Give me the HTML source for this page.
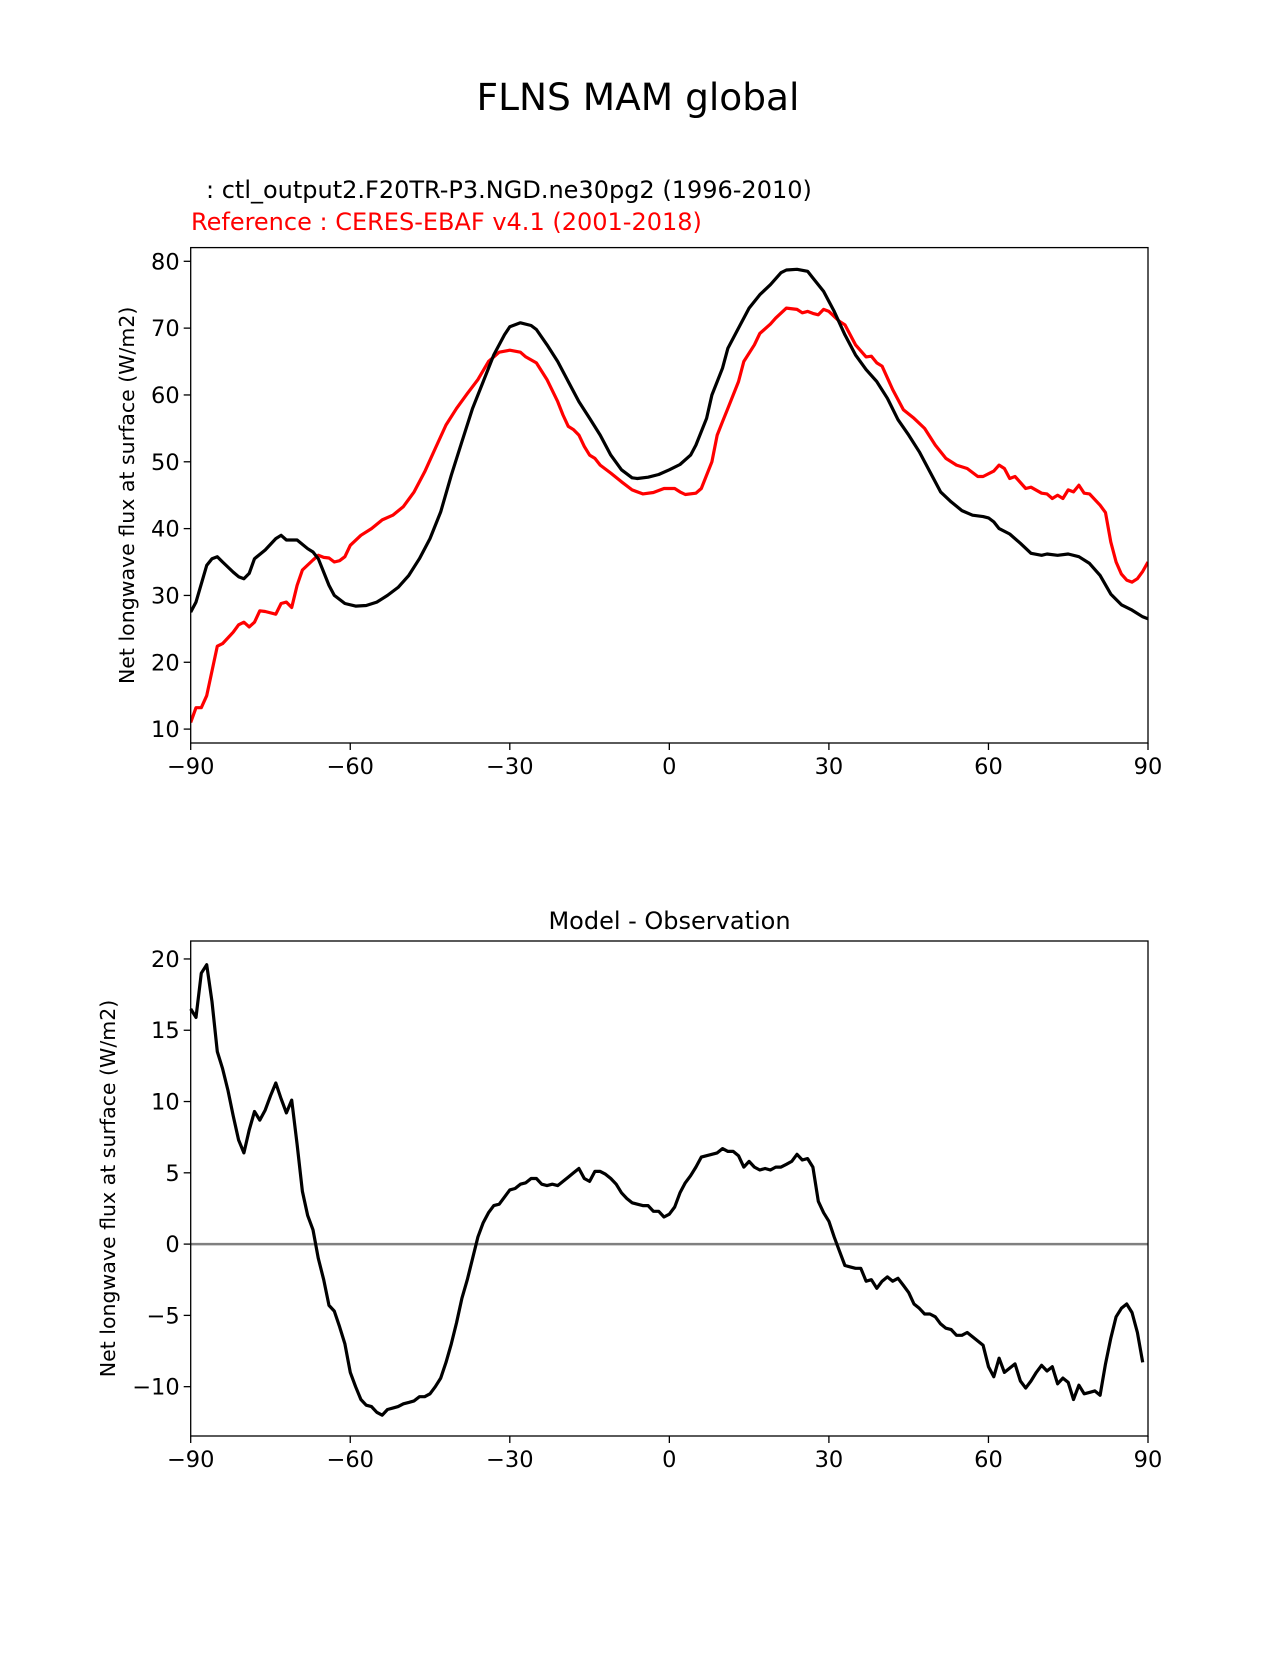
<!DOCTYPE html>
<html><head><meta charset="utf-8"><style>
body{margin:0;background:#fff}
svg text{font-family:"DejaVu Sans","Liberation Sans",sans-serif;fill:#000}
</style></head><body>
<svg id="fig" width="1275" height="1650" viewBox="0 0 1275 1650" xmlns="http://www.w3.org/2000/svg">
<rect width="1275" height="1650" fill="#fff"/>
<text x="638" y="110" font-size="37.5" text-anchor="middle">FLNS MAM global</text>
<text x="206" y="198" font-size="24">: ctl_output2.F20TR-P3.NGD.ne30pg2 (1996-2010)</text>
<text x="191" y="230" font-size="24" style="fill:#f00">Reference : CERES-EBAF v4.1 (2001-2018)</text>
<text x="669.5" y="929" font-size="24" text-anchor="middle">Model - Observation</text>
<g id="top"></g>
<g id="bot"></g>
</svg>
<script>
const lonM=[-90,-89,-87,-86,-85,-84,-82,-81,-80,-79,-78,-76,-74,-73,-72,-70,-68,-67,-66,-64,-63,-61,-59,-57,-55,-53,-51,-49,-47,-45,-43,-41,-39,-37,-35,-33,-31,-30,-28,-26,-25,-23,-21,-19,-17,-15,-13,-11,-9,-7,-6,-4,-2,0,2,4,5,7,8,10,11,13,15,17,19,21,22,24,26,27,29,31,33,35,37,39,41,43,45,47,49,51,53,55,57,59,60,61,62,64,66,68,70,71,73,75,77,79,81,83,85,87,89,90];
const valM=[27.5,29,34.5,35.5,35.8,35,33.5,32.8,32.5,33.3,35.5,36.8,38.5,39,38.3,38.3,37,36.5,35.5,31.5,30,28.8,28.4,28.5,29,30,31.2,33,35.5,38.5,42.5,48,53,58,62,66,69,70.2,70.8,70.4,69.8,67.5,65,62,59,56.5,54,51,48.8,47.6,47.5,47.7,48.1,48.8,49.6,51,52.5,56.5,60,64,67,70,73,75,76.5,78.3,78.7,78.8,78.5,77.5,75.5,72.5,69,66,63.8,62,59.5,56.3,54,51.5,48.5,45.5,44,42.7,42,41.8,41.6,41,40,39.2,37.8,36.3,36,36.2,36,36.2,35.8,34.8,33,30.2,28.6,27.8,26.8,26.5];
const lonO=[-90,-89,-88,-87,-85,-84,-82,-81,-80,-79,-78,-77,-76,-74,-73,-72,-71,-70,-69,-67,-66,-65,-64,-63,-62,-61,-60,-58,-56,-54,-52,-50,-48,-46,-44,-42,-40,-38,-36,-34,-32,-30,-28,-27,-25,-23,-21,-20,-19,-18,-17,-16,-15,-14,-13,-11,-9,-7,-5,-3,-1,1,2,3,5,6,8,9,10,11,13,14,16,17,19,20,22,24,25,26,27,28,29,30,32,33,35,37,38,39,40,42,44,46,48,50,52,54,56,58,59,61,62,63,64,65,67,68,70,71,72,73,74,75,76,77,78,79,81,82,83,84,85,86,87,88,89,90];
const valO=[11,13.2,13.2,15,22.4,22.8,24.5,25.6,26,25.3,26,27.7,27.6,27.2,28.8,29,28.2,31.5,33.8,35.3,36,35.7,35.6,35,35.2,35.8,37.5,39,40,41.3,42,43.3,45.5,48.5,52,55.5,58,60.2,62.3,65,66.4,66.7,66.4,65.7,64.8,62.3,59,57,55.3,54.8,54,52.3,51,50.5,49.5,48.3,47,45.8,45.2,45.4,46,46,45.5,45.1,45.3,46,50,54,56,58,62,65,67.5,69.2,70.6,71.5,73,72.8,72.3,72.5,72.2,72,72.8,72.5,71,70.5,67.5,65.7,65.8,64.8,64.3,60.8,57.8,56.5,55,52.5,50.5,49.5,49,47.8,47.8,48.6,49.5,49,47.5,47.8,46,46.2,45.3,45.2,44.5,45,44.5,45.8,45.5,46.5,45.3,45.2,43.5,42.4,38,35,33.2,32.3,32,32.5,33.6,35];
const diffStart=-90;
const valD=[16.5,15.9,19,19.6,17,13.5,12.3,10.8,9,7.3,6.4,8,9.3,8.7,9.4,10.4,11.3,10.2,9.2,10.1,7,3.7,2,1,-1,-2.5,-4.3,-4.7,-5.8,-7,-9,-10,-10.9,-11.3,-11.4,-11.8,-12,-11.6,-11.5,-11.4,-11.2,-11.1,-11,-10.7,-10.7,-10.5,-10,-9.4,-8.3,-7,-5.5,-3.8,-2.5,-1,0.5,1.5,2.2,2.7,2.8,3.3,3.8,3.9,4.2,4.3,4.6,4.6,4.2,4.1,4.2,4.1,4.4,4.7,5,5.3,4.6,4.4,5.1,5.1,4.9,4.6,4.2,3.6,3.2,2.9,2.8,2.7,2.7,2.3,2.3,1.9,2.1,2.6,3.6,4.3,4.8,5.4,6.1,6.2,6.3,6.4,6.7,6.5,6.5,6.2,5.4,5.8,5.4,5.2,5.3,5.2,5.4,5.4,5.6,5.8,6.3,5.9,6,5.4,3,2.2,1.6,0.5,-0.5,-1.5,-1.6,-1.7,-1.7,-2.6,-2.5,-3.1,-2.6,-2.3,-2.6,-2.4,-2.9,-3.4,-4.2,-4.5,-4.9,-4.9,-5.1,-5.6,-5.9,-6,-6.4,-6.4,-6.2,-6.5,-6.8,-7.1,-8.6,-9.3,-8,-9,-8.7,-8.4,-9.6,-10.1,-9.6,-9,-8.5,-8.9,-8.6,-9.8,-9.4,-9.7,-10.9,-9.9,-10.5,-10.4,-10.3,-10.6,-8.4,-6.6,-5.1,-4.5,-4.2,-4.8,-6.2,-8.3];
const xTicks=[-90,-60,-30,0,30,60,90];
const yTicksTop=[10,20,30,40,50,60,70,80];
const yTicksBot=[-10,-5,0,5,10,15,20];

const NS="http://www.w3.org/2000/svg";
function mk(p,tag,at){const e=document.createElementNS(NS,tag);for(const k in at)e.setAttribute(k,at[k]);p.appendChild(e);return e;}
function axes(g,top,bot,ymin,ymax,yt,name){
  const L=190.7,R=1148;
  const sx=v=>L+(v+90)/180*(R-L);
  const sy=v=>bot-(v-ymin)/(ymax-ymin)*(bot-top);
  for(const t of xTicks){
    const l=mk(g,'line',{x1:sx(t),x2:sx(t),y1:bot,y2:bot+7,stroke:'#000','stroke-width':1.3});
    
    
    const tx=mk(g,'text',{x:sx(t),y:bot+31,'font-size':22.5,'text-anchor':'middle'});
    tx.textContent=t<0?'\u2212'+(-t):String(t);
    
    
  }
  for(const t of yt){
    const l=mk(g,'line',{x1:L-7,x2:L,y1:sy(t),y2:sy(t),stroke:'#000','stroke-width':1.3});
    
    
    const tx=mk(g,'text',{x:L-11,y:sy(t)+8,'font-size':22.5,'text-anchor':'end'});
    tx.textContent=t<0?'\u2212'+(-t):String(t);
    
    
  }
  const cy=(top+bot)/2;
  const yl=mk(g,'text',{x:0,y:0,'font-size':20.5,'text-anchor':'middle',transform:`translate(${name==='top'?134:115},${cy}) rotate(-90)`});
  yl.textContent='Net longwave flux at surface (W/m2)';
  
  
  return {sx,sy,L,R};
}
function line(g,xs,ys,a,color,nm){
  const d=xs.map((x,i)=>(i?'L':'M')+a.sx(x).toFixed(1)+' '+a.sy(ys[i]).toFixed(1)).join(' ');
  const p=mk(g,'path',{d,fill:'none',stroke:color,'stroke-width':3.2,'stroke-linejoin':'round'});
  
  
}
function frame(g,a,top,bot){
  const r=mk(g,'rect',{x:a.L,y:top,width:a.R-a.L,height:bot-top,fill:'none',stroke:'#000','stroke-width':1.3});
  
  
}
const gt=document.getElementById('top');
const T0=247.6,T1=743;
const at=axes(gt,T0,T1,7.92,82.05,yTicksTop,'top');
const cp=mk(gt,'clipPath',{id:'ct'});mk(cp,'rect',{x:at.L,y:T0,width:at.R-at.L,height:T1-T0});
const gtc=mk(gt,'g',{'clip-path':'url(#ct)'});
line(gtc,lonO,valO,at,'#f00','reference-line');
line(gtc,lonM,valM,at,'#000','model-line');
frame(gt,at,T0,T1);

const gb=document.getElementById('bot');
const B0=941,B1=1436;
const ab=axes(gb,B0,B1,-13.46,21.26,yTicksBot,'bot');
const lonD=valD.map((v,i)=>diffStart+i);
const z=mk(gb,'line',{x1:ab.L,x2:ab.R,y1:ab.sy(0),y2:ab.sy(0),stroke:'#808080','stroke-width':2.5});


line(gb,lonD,valD,ab,'#000','diff-line');
frame(gb,ab,B0,B1);
</script>
</body></html>
